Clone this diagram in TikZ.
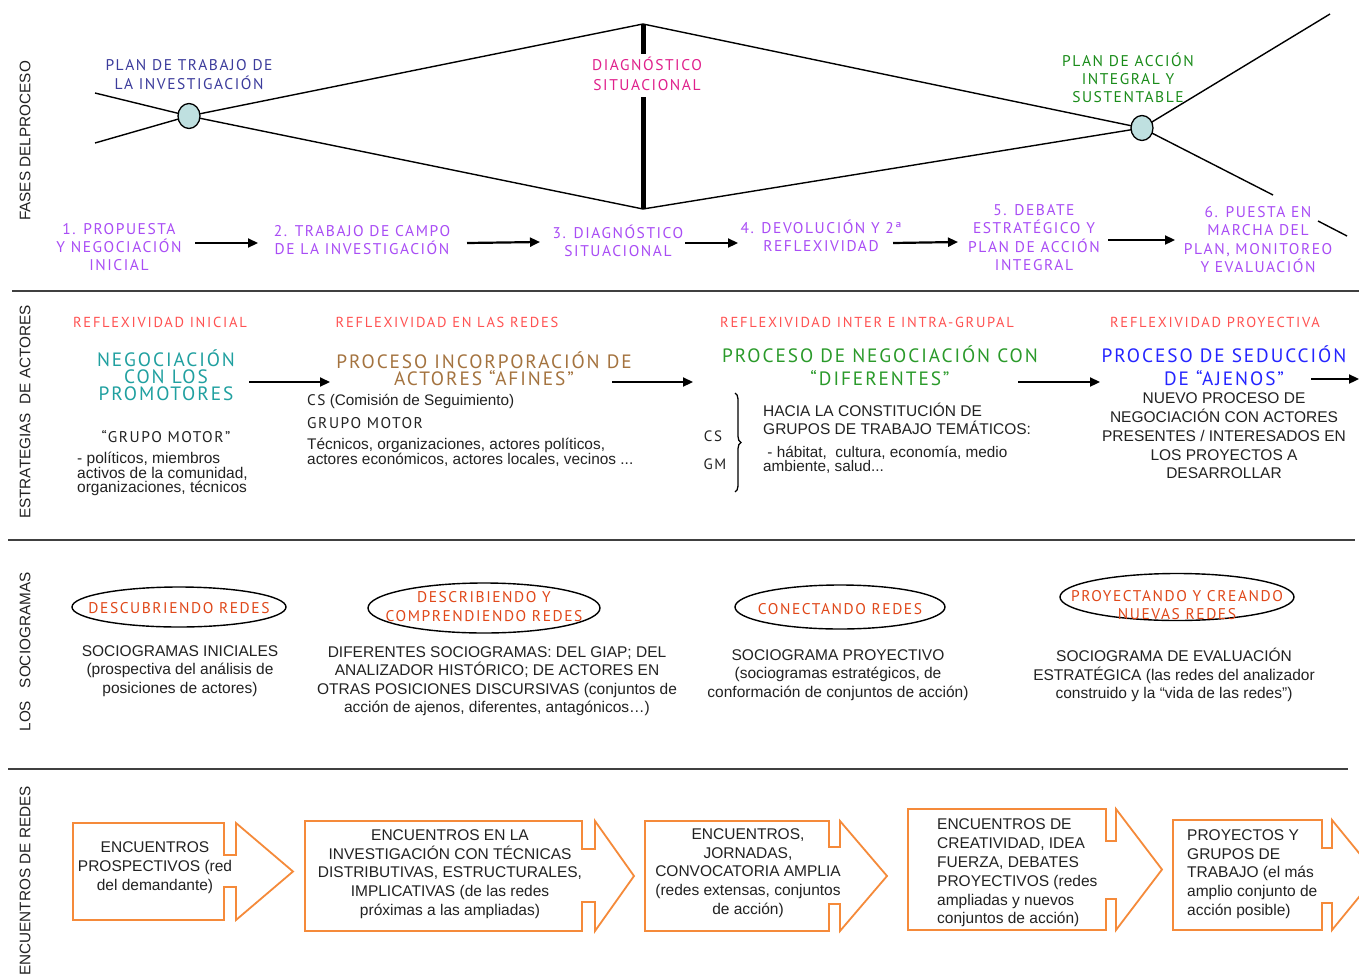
\documentclass[tikz,border=0pt]{standalone}
\usepackage{fontspec}
\setmainfont{Liberation Sans}
\newfontfamily\capf[LetterSpace=10]{PT Sans}
\newfontfamily\capw[LetterSpace=12]{PT Sans}
\usetikzlibrary{arrows.meta,decorations.pathreplacing,shapes.geometric}
\definecolor{navyc}{HTML}{3C3C9C}
\definecolor{magc}{HTML}{E0208C}
\definecolor{greenc}{HTML}{1A8C1A}
\definecolor{purpc}{HTML}{A94DF5}
\definecolor{redc}{HTML}{FF5252}
\definecolor{tealc}{HTML}{20A0A0}
\definecolor{brownc}{HTML}{A4733F}
\definecolor{green2c}{HTML}{2A9A2A}
\definecolor{bluec}{HTML}{2424FF}
\definecolor{orredc}{HTML}{E0481A}
\definecolor{orangec}{HTML}{F58A3A}
\definecolor{circc}{HTML}{BFE0E0}
\definecolor{sepc}{HTML}{404040}
\definecolor{txtc}{HTML}{222222}
\newcommand\encshape[8]{% L T B N S nt nb tip
  \draw[encbox] (#1,#2) -- (#4,#2) -- (#4,#6) -- (#5,#6) -- (#5,#2) -- (#8,{(#2+#3)/2}) -- (#5,#3) -- (#5,#7) -- (#4,#7) -- (#4,#3) -- (#1,#3) -- cycle;}
\tikzset{
  capt/.style={font=\capf\fontsize{15.5}{18}\selectfont, align=center, inner sep=0},
  redcap/.style={font=\capw\fontsize{14.5}{18}\selectfont, align=center, inner sep=0, text=redc},
  bigcap/.style={font=\capf\fontsize{19.3}{17}\selectfont, align=center, inner sep=0},
  body/.style={font=\fontsize{15.5}{18.5}\selectfont, align=center, inner sep=0, text=txtc},
  conn/.style={-{Triangle[length=10pt,width=9pt]}, line width=2.2pt},
  ln/.style={line width=1.4pt},
  thk/.style={line width=5pt},
  sepl/.style={line width=2pt, draw=sepc},
  vlab/.style={rotate=90, font=\fontsize{15.3}{18}\selectfont, inner sep=0, text=txtc},
  circ/.style={ellipse, draw, fill=circc, line width=1.3pt, minimum width=22pt, minimum height=25pt, inner sep=0},
  soc/.style={ellipse, draw, line width=1.4pt, inner sep=0},
  encbox/.style={draw=orangec, line width=1.8pt, fill=white, line join=miter},
}
\begin{document}
\begin{tikzpicture}[x=1pt,y=-1pt]
\useasboundingbox (0,0) rectangle (1359,974);
\fill[white] (0,0) rectangle (1359,974);

% ---------- section 1 : fases
\node[vlab] (v1) at (25,141) {FASES DELPROCESO};
\coordinate (xa) at (95,93);
\coordinate (xb) at (95,143);
\coordinate (dt) at (643,24);
\coordinate (db) at (643,209);
\coordinate (ra) at (1330,14);
\coordinate (rb) at (1273,195);
\coordinate (rc) at (1318,221);
\coordinate (rd) at (1347,236);
\coordinate (k1) at (643,54);
\coordinate (k2) at (643,97);
\draw[ln] (xa) -- (189,116) -- (dt) -- (1142,128) -- (db) -- (189,116) -- (xb);
\draw[ln] (1142,128) -- (ra);
\draw[ln] (1142,128) -- (rb);
\draw[ln] (rc) -- (rd);
\draw[thk] (dt) -- (k1);
\draw[thk] (k2) -- (db);
\node[circ] (c1) at (189,116) {};
\node[circ] (c2) at (1142,128) {};

\node[capt, text=navyc, font=\capf\fontsize{15.5}{19}\selectfont] (t1) at (189,75) {PLAN DE TRABAJO DE\\LA INVESTIGACIÓN};
\node[capt, text=magc, font=\capf\fontsize{15.5}{20}\selectfont] (t2) at (647,74) {DIAGNÓSTICO\\SITUACIONAL};
\node[capt, text=greenc, font=\capf\fontsize{15.5}{18}\selectfont] (t3) at (1128,78) {PLAN DE ACCIÓN\\INTEGRAL Y\\SUSTENTABLE};

\node[capt, text=purpc] (p1) at (119,247) {1. PROPUESTA\\Y NEGOCIACIÓN\\INICIAL};
\node[capt, text=purpc] (p2) at (362,240) {2. TRABAJO DE CAMPO\\DE LA INVESTIGACIÓN};
\node[capt, text=purpc] (p3) at (618,241) {3. DIAGNÓSTICO\\SITUACIONAL};
\node[capt, text=purpc] (p4) at (821,236) {4. DEVOLUCIÓN Y 2ª\\REFLEXIVIDAD};
\node[capt, text=purpc, font=\capf\fontsize{15.5}{18.3}\selectfont] (p5) at (1034,237.5) {5. DEBATE\\ESTRATÉGICO Y\\PLAN DE ACCIÓN\\INTEGRAL};
\node[capt, text=purpc, font=\capf\fontsize{15.5}{18.3}\selectfont] (p6) at (1258,239.5) {6. PUESTA EN\\MARCHA DEL\\PLAN, MONITOREO\\Y EVALUACIÓN};

\coordinate (a1s) at (195,243); \coordinate (a1e) at (258,243);
\coordinate (a2s) at (467,243); \coordinate (a2e) at (540,242);
\coordinate (a3s) at (685,243); \coordinate (a3e) at (738,243);
\coordinate (a4s) at (893,243); \coordinate (a4e) at (958,242);
\coordinate (a5s) at (1108,240); \coordinate (a5e) at (1175,240);
\draw[conn] (a1s) -- (a1e);
\draw[conn] (a2s) -- (a2e);
\draw[conn] (a3s) -- (a3e);
\draw[conn] (a4s) -- (a4e);
\draw[conn] (a5s) -- (a5e);

\draw[sepl] (12,291) -- (1359,291);

% ---------- section 2 : estrategias
\node[vlab] (v2) at (25,412) {ESTRATEGIAS\ \ DE ACTORES};
\node[redcap] (r1) at (160,322) {REFLEXIVIDAD INICIAL};
\node[redcap] (r2) at (447,322) {REFLEXIVIDAD EN LAS REDES};
\node[redcap] (r3) at (867,322) {REFLEXIVIDAD INTER E INTRA-GRUPAL};
\node[redcap] (r4) at (1215,322) {REFLEXIVIDAD PROYECTIVA};

\node[bigcap, text=tealc] (neg) at (166,375) {NEGOCIACIÓN\\CON LOS\\PROMOTORES};
\node[bigcap, text=brownc] (pr1) at (484,369) {PROCESO INCORPORACIÓN DE\\ACTORES “AFINES”};
\node[bigcap, text=green2c, font=\capf\fontsize{19.3}{23}\selectfont] (pr2) at (880,366) {PROCESO DE NEGOCIACIÓN CON\\“DIFERENTES”};
\node[bigcap, text=bluec, font=\capf\fontsize{19.3}{23}\selectfont] (pr3) at (1224,366) {PROCESO DE SEDUCCIÓN\\DE “AJENOS”};

\coordinate (b1s) at (249,382); \coordinate (b1e) at (330,382);
\coordinate (b2s) at (612,382); \coordinate (b2e) at (693,382);
\coordinate (b3s) at (1018,382); \coordinate (b3e) at (1100,382);
\coordinate (b4s) at (1311,379); \coordinate (b4e) at (1359,379);
\draw[conn] (b1s) -- (b1e);
\draw[conn] (b2s) -- (b2e);
\draw[conn] (b3s) -- (b3e);
\draw[conn] (b4s) -- (b4e);

\node[capt, text=txtc, font=\capf\fontsize{15.5}{18}\selectfont] (gm1) at (166,437) {“GRUPO MOTOR”};
\node[body, align=left, anchor=west, font=\fontsize{15.5}{14}\selectfont] (gm1t) at (77,474) {- políticos, miembros\\activos de la comunidad,\\organizaciones, técnicos};

\node[body, anchor=west, font=\fontsize{15.3}{16}\selectfont] (cs1) at (307,401) {{\capf CS} (Comisión de Seguimiento)};
\node[capt, anchor=west, text=txtc, font=\capf\fontsize{15.5}{18}\selectfont] (gm2) at (307,423) {GRUPO MOTOR};
\node[body, align=left, anchor=west, font=\fontsize{15.4}{15}\selectfont] (gm2t) at (307,452.5) {Técnicos, organizaciones, actores políticos,\\actores económicos, actores locales, vecinos ...};

\draw[line width=1.3pt, decorate, decoration={brace, amplitude=6pt}] (735,393) -- (735,492);
\node[capt, text=txtc, font=\capf\fontsize{15}{18}\selectfont] (cs2) at (713,436) {CS};
\node[capt, text=txtc, font=\capf\fontsize{15}{18}\selectfont] (gm3) at (715,464) {GM};
\node[body, align=left, anchor=west, font=\fontsize{15.5}{18}\selectfont] (hac) at (763,419) {HACIA LA CONSTITUCIÓN DE\\GRUPOS DE TRABAJO TEMÁTICOS:};
\node[body, align=left, anchor=west, font=\fontsize{15.3}{13}\selectfont] (hab) at (763,459.5) {\ - hábitat,\ \ cultura, economía, medio\\ambiente, salud...};
\node[body, font=\fontsize{15.5}{18.7}\selectfont] (nue) at (1224,436) {NUEVO PROCESO DE\\NEGOCIACIÓN CON ACTORES\\PRESENTES / INTERESADOS EN\\LOS PROYECTOS A\\DESARROLLAR};

\draw[sepl] (8,540) -- (1355,540);

% ---------- section 3 : sociogramas
\node[vlab] (v3) at (25,652) {LOS\ \ \ SOCIOGRAMAS};
\node[soc, minimum width=214pt, minimum height=40pt] (e1) at (179,607) {};
\node[soc, minimum width=232pt, minimum height=50pt] (e2) at (484,608) {};
\node[soc, minimum width=210pt, minimum height=44pt] (e3) at (840,607) {};
\node[soc, minimum width=234pt, minimum height=47pt] (e4) at (1177,597) {};
\node[capt, text=orredc] (e1t) at (179,608) {DESCUBRIENDO REDES};
\node[capt, text=orredc, font=\capf\fontsize{15.5}{19}\selectfont] (e2t) at (484,607) {DESCRIBIENDO Y\\COMPRENDIENDO REDES};
\node[capt, text=orredc] (e3t) at (840,609) {CONECTANDO REDES};
\node[capt, text=orredc, font=\capf\fontsize{15.5}{17.5}\selectfont] (e4t) at (1177,605) {PROYECTANDO Y CREANDO\\NUEVAS REDES};

\node[body] (s1) at (180,671) {SOCIOGRAMAS INICIALES\\(prospectiva del análisis de\\posiciones de actores)};
\node[body] (s2) at (497,681) {DIFERENTES SOCIOGRAMAS: DEL GIAP; DEL\\ANALIZADOR HISTÓRICO; DE ACTORES EN\\OTRAS POSICIONES DISCURSIVAS (conjuntos de\\acción de ajenos, diferentes, antagónicos…)};
\node[body] (s3) at (838,675) {SOCIOGRAMA PROYECTIVO\\(sociogramas estratégicos, de\\conformación de conjuntos de acción)};
\node[body] (s4) at (1174,675) {SOCIOGRAMA DE EVALUACIÓN\\ESTRATÉGICA (las redes del analizador\\construido y la “vida de las redes”)};

\draw[sepl] (8,769) -- (1348,769);

% ---------- section 4 : encuentros
\node[vlab] (v4) at (25,881) {ENCUENTROS DE REDES};
\encshape{73}{823}{920}{224}{236}{855}{887}{293}
\encshape{305}{821}{931}{582}{595}{849}{902}{634}
\encshape{645}{821}{931}{829}{840}{847}{904}{887}
\encshape{908}{809}{930}{1106}{1116}{841}{899}{1162}
\encshape{1173}{820}{930}{1322}{1332}{848}{903}{1377}

\node[body, font=\fontsize{15.5}{19}\selectfont] (n1) at (155,868) {ENCUENTROS\\PROSPECTIVOS (red\\del demandante)};
\node[body, font=\fontsize{15.5}{18.7}\selectfont] (n2) at (450,874) {ENCUENTROS EN LA\\INVESTIGACIÓN CON TÉCNICAS\\DISTRIBUTIVAS, ESTRUCTURALES,\\IMPLICATIVAS (de las redes\\próximas a las ampliadas)};
\node[body, font=\fontsize{15.5}{18.7}\selectfont] (n3) at (748,873) {ENCUENTROS,\\JORNADAS,\\CONVOCATORIA AMPLIA\\(redes extensas, conjuntos\\de acción)};
\node[body, align=left, anchor=west, font=\fontsize{15.5}{18.8}\selectfont] (n4) at (937,873) {ENCUENTROS DE\\CREATIVIDAD, IDEA\\FUERZA, DEBATES\\PROYECTIVOS (redes\\ampliadas y nuevos\\conjuntos de acción)};
\node[body, align=left, anchor=west, font=\fontsize{15.5}{18.7}\selectfont] (n5) at (1187,874) {PROYECTOS Y\\GRUPOS DE\\TRABAJO (el más\\amplio conjunto de\\acción posible)};
\end{tikzpicture}
\end{document}
